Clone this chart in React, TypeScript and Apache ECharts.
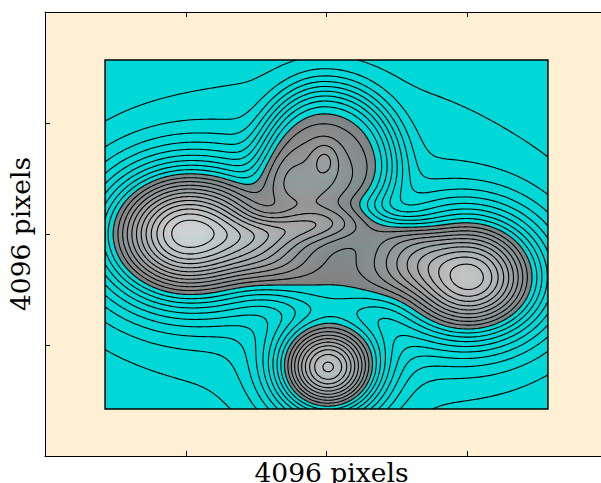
import React, { useEffect, useRef } from "react";
import * as echarts from "echarts";

// ---------- axes ----------
const AXIS_MIN = 0;
const AXIS_MAX = 4096;
const AXIS_INTERVAL = 1024;
const AXIS_TITLE = "4096 pixels";

// ---------- image extent (data units) ----------
const IMAGE_X = [437, 3659];
const IMAGE_Y = [434, 3653];

// ---------- surface components (data units) ----------
// background, left peak, right peak, bottom peak, upper lobe, central body, finger, lobe knot
const PEAK_X = [2074, 1033, 3092, 2059, 2037, 2146, 1746, 2037];
const PEAK_Y = [1993, 2048, 1642, 812, 2731, 1919, 2103, 2731];
const PEAK_HEIGHT = [2.5, 20, 18, 17.7, 9.8, 6.5, 1.8, 2.0];
const WIDTH_LEFT = [1237, 422, 378, 262, 335, 509, 327, 73];
const WIDTH_RIGHT = [1237, 466, 378, 262, 378, 473, 327, 73];
const WIDTH_DOWN = [1107, 424, 388, 304, 415, 388, 101, 120];
const WIDTH_UP = [1107, 424, 406, 304, 489, 240, 101, 120];
const PEAK_SHAPE = [1, 1, 1, 1, 2, 2, 1, 1];

// ---------- contour levels ----------
const LEVELS = [1, 2, 3, 4, 5, 6, 7, 8, 9, 10, 11, 12, 13, 14, 15, 16, 17, 18, 19, 20, 21, 22, 23, 24, 25];
const FILL_LEVEL = 10;
const GRAY_TOP_LEVEL = 23;

const CYAN = "#00d7d7";
const PEACH = "#ffefd5";
const FONT = "DejaVu Serif";

type Pt = [number, number];

function surface(x: number, y: number): number {
  let v = 0;
  for (let k = 0; k < PEAK_X.length; k++) {
    const dx = x - PEAK_X[k];
    const dy = y - PEAK_Y[k];
    const sx = dx < 0 ? WIDTH_LEFT[k] : WIDTH_RIGHT[k];
    const sy = dy < 0 ? WIDTH_DOWN[k] : WIDTH_UP[k];
    const q = 0.5 * ((dx * dx) / (sx * sx) + (dy * dy) / (sy * sy));
    v += PEAK_HEIGHT[k] * Math.exp(-Math.pow(q, PEAK_SHAPE[k]));
  }
  return v;
}

const NX = 224;
const NY = 178;
const xs: number[] = [];
const ys: number[] = [];
for (let i = 0; i < NX; i++) xs.push(IMAGE_X[0] + ((IMAGE_X[1] - IMAGE_X[0]) * i) / (NX - 1));
for (let j = 0; j < NY; j++) ys.push(IMAGE_Y[0] + ((IMAGE_Y[1] - IMAGE_Y[0]) * j) / (NY - 1));
const vals = new Float64Array(NX * NY);
for (let j = 0; j < NY; j++) for (let i = 0; i < NX; i++) vals[j * NX + i] = surface(xs[i], ys[j]);
const V = (i: number, j: number) => vals[j * NX + i];

function grayOf(v: number): number {
  const t = Math.min(1, Math.max(0, (v - FILL_LEVEL) / (GRAY_TOP_LEVEL - FILL_LEVEL)));
  return Math.round(128 + t * 90);
}

function contourChains(level: number): Pt[][] {
  const pts = new Map<number, Pt>();
  const adj = new Map<number, number[]>();
  const link = (a: number, b: number) => {
    if (!adj.has(a)) adj.set(a, []);
    if (!adj.has(b)) adj.set(b, []);
    adj.get(a)!.push(b);
    adj.get(b)!.push(a);
  };
  for (let j = 0; j < NY - 1; j++) {
    for (let i = 0; i < NX - 1; i++) {
      const v00 = V(i, j), v10 = V(i + 1, j), v01 = V(i, j + 1), v11 = V(i + 1, j + 1);
      const s00 = v00 >= level, s10 = v10 >= level, s01 = v01 >= level, s11 = v11 >= level;
      const idx = (s00 ? 1 : 0) | (s10 ? 2 : 0) | (s11 ? 4 : 0) | (s01 ? 8 : 0);
      if (idx === 0 || idx === 15) continue;
      let eB = -1, eR = -1, eT = -1, eL = -1;
      if (s00 !== s10) {
        eB = (j * NX + i) * 2;
        const t = (level - v00) / (v10 - v00);
        if (!pts.has(eB)) pts.set(eB, [xs[i] + t * (xs[i + 1] - xs[i]), ys[j]]);
      }
      if (s01 !== s11) {
        eT = ((j + 1) * NX + i) * 2;
        const t = (level - v01) / (v11 - v01);
        if (!pts.has(eT)) pts.set(eT, [xs[i] + t * (xs[i + 1] - xs[i]), ys[j + 1]]);
      }
      if (s00 !== s01) {
        eL = (j * NX + i) * 2 + 1;
        const t = (level - v00) / (v01 - v00);
        if (!pts.has(eL)) pts.set(eL, [xs[i], ys[j] + t * (ys[j + 1] - ys[j])]);
      }
      if (s10 !== s11) {
        eR = (j * NX + i + 1) * 2 + 1;
        const t = (level - v10) / (v11 - v10);
        if (!pts.has(eR)) pts.set(eR, [xs[i + 1], ys[j] + t * (ys[j + 1] - ys[j])]);
      }
      if (idx === 5 || idx === 10) {
        const c = (v00 + v10 + v01 + v11) / 4;
        const cAbove = c >= level;
        if ((idx === 5) === cAbove) {
          link(eB, eR);
          link(eT, eL);
        } else {
          link(eL, eB);
          link(eR, eT);
        }
      } else {
        const cr = [eB, eR, eT, eL].filter((e) => e >= 0);
        link(cr[0], cr[1]);
      }
    }
  }
  const visited = new Set<number>();
  const chains: Pt[][] = [];
  const walk = (start: number) => {
    const chain: number[] = [start];
    visited.add(start);
    let cur = start;
    for (;;) {
      const nb = adj.get(cur)!;
      let nxt = -1;
      for (const n of nb) if (!visited.has(n)) { nxt = n; break; }
      if (nxt < 0) {
        if (chain.length > 2 && nb.includes(start)) chain.push(start);
        break;
      }
      visited.add(nxt);
      chain.push(nxt);
      cur = nxt;
    }
    chains.push(chain.map((id) => pts.get(id)!));
  };
  for (const [id, nb] of adj) if (nb.length === 1 && !visited.has(id)) walk(id);
  for (const id of adj.keys()) if (!visited.has(id)) walk(id);
  return chains;
}

// filled shading above FILL_LEVEL
type Run = { x0: number; x1: number; y0: number; y1: number; g: number };
const fullRuns: Run[] = [];
const partialPolys: { pts: Pt[]; g: number }[] = [];
for (let j = 0; j < NY - 1; j++) {
  let run: Run | null = null;
  for (let i = 0; i < NX - 1; i++) {
    const v00 = V(i, j), v10 = V(i + 1, j), v01 = V(i, j + 1), v11 = V(i + 1, j + 1);
    const n = (v00 >= FILL_LEVEL ? 1 : 0) + (v10 >= FILL_LEVEL ? 1 : 0) + (v01 >= FILL_LEVEL ? 1 : 0) + (v11 >= FILL_LEVEL ? 1 : 0);
    if (n === 4) {
      const g = grayOf((v00 + v10 + v01 + v11) / 4);
      if (run && run.g === g) run.x1 = xs[i + 1];
      else {
        if (run) fullRuns.push(run);
        run = { x0: xs[i], x1: xs[i + 1], y0: ys[j], y1: ys[j + 1], g };
      }
      continue;
    }
    if (run) { fullRuns.push(run); run = null; }
    if (n === 0) continue;
    const corners: [number, number, number][] = [
      [xs[i], ys[j], v00],
      [xs[i + 1], ys[j], v10],
      [xs[i + 1], ys[j + 1], v11],
      [xs[i], ys[j + 1], v01],
    ];
    const poly: Pt[] = [];
    for (let k = 0; k < 4; k++) {
      const a = corners[k], b = corners[(k + 1) % 4];
      const aIn = a[2] >= FILL_LEVEL, bIn = b[2] >= FILL_LEVEL;
      if (aIn) poly.push([a[0], a[1]]);
      if (aIn !== bIn) {
        const t = (FILL_LEVEL - a[2]) / (b[2] - a[2]);
        poly.push([a[0] + t * (b[0] - a[0]), a[1] + t * (b[1] - a[1])]);
      }
    }
    partialPolys.push({ pts: poly, g: grayOf(FILL_LEVEL) });
  }
  if (run) fullRuns.push(run);
}

const contourLines: Pt[][] = [];
for (const lv of LEVELS) for (const ch of contourChains(lv)) contourLines.push(ch);

function renderItem(_params: any, api: any) {
  const children: any[] = [];
  const tl = api.coord([IMAGE_X[0], IMAGE_Y[1]]);
  const br = api.coord([IMAGE_X[1], IMAGE_Y[0]]);
  children.push({
    type: "rect",
    shape: { x: tl[0], y: tl[1], width: br[0] - tl[0], height: br[1] - tl[1] },
    style: { fill: CYAN },
    silent: true,
  });
  for (const r of fullRuns) {
    const a = api.coord([r.x0, r.y1]);
    const b = api.coord([r.x1, r.y0]);
    const c = `rgb(${r.g},${r.g},${r.g})`;
    children.push({
      type: "rect",
      shape: { x: a[0], y: a[1], width: b[0] - a[0] + 0.4, height: b[1] - a[1] + 0.4 },
      style: { fill: c },
      silent: true,
    });
  }
  for (const p of partialPolys) {
    const c = `rgb(${p.g},${p.g},${p.g})`;
    children.push({
      type: "polygon",
      shape: { points: p.pts.map((q) => api.coord(q)) },
      style: { fill: c, stroke: c, lineWidth: 0.3 },
      silent: true,
    });
  }
  for (const line of contourLines) {
    children.push({
      type: "polyline",
      shape: { points: line.map((q) => api.coord(q)) },
      style: { stroke: "#000", fill: null, lineWidth: 1.1 },
      silent: true,
    });
  }
  children.push({
    type: "rect",
    shape: { x: tl[0], y: tl[1], width: br[0] - tl[0], height: br[1] - tl[1] },
    style: { fill: null, stroke: "#000", lineWidth: 1.5 },
    silent: true,
  });
  return { type: "group", children };
}

const axisCommon = {
  type: "value" as const,
  min: AXIS_MIN,
  max: AXIS_MAX,
  interval: AXIS_INTERVAL,
  axisLine: { show: true, lineStyle: { color: "#000", width: 1 } },
  axisTick: { show: true, inside: true, length: 5, lineStyle: { color: "#000", width: 1 } },
  axisLabel: { show: false },
  splitLine: { show: false },
};

const nameStyle = { fontFamily: FONT, fontSize: 26.5, color: "#000" };

export default function App() {
  const ref = useRef<HTMLDivElement>(null);
  useEffect(() => {
    document.body.style.margin = "0";
    const chart = echarts.init(ref.current!, undefined, { renderer: "svg" });
    chart.setOption({
      animation: false,
      backgroundColor: "#ffffff",
      grid: {
        left: 45,
        top: 12,
        width: 563,
        height: 444,
        show: true,
        backgroundColor: PEACH,
        borderWidth: 0,
        outerBoundsMode: "none",
        containLabel: false,
      },
      xAxis: [
        {
          ...axisCommon,
          position: "bottom",
          name: AXIS_TITLE,
          nameLocation: "middle",
          nameGap: 5,
          nameTextStyle: { ...nameStyle, lineHeight: 22, padding: [0, 0, 0, 10] },
        },
        { ...axisCommon, position: "top" },
      ],
      yAxis: [
        {
          ...axisCommon,
          position: "left",
          name: AXIS_TITLE,
          nameLocation: "middle",
          nameGap: 11,
          nameTextStyle: nameStyle,
        },
      ],
      series: [
        {
          type: "custom",
          coordinateSystem: "cartesian2d",
          data: [[IMAGE_X[0], IMAGE_Y[0]]],
          renderItem,
          silent: true,
          clip: false,
        },
      ],
    });
    return () => chart.dispose();
  }, []);
  return <div ref={ref} style={{ position: "absolute", left: 0, top: 0, width: 601, height: 483 }} />;
}
